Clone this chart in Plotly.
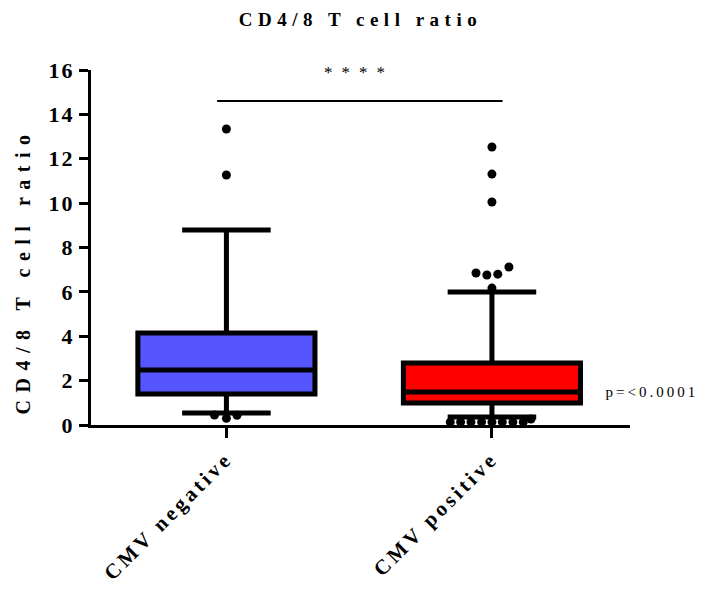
import plotly.graph_objects as go

# ---- data ----
groups = ["CMV negative", "CMV positive"]
group_pos = [0, 1]
q1 = [1.40, 0.99]
median = [2.48, 1.49]
q3 = [4.15, 2.79]
lower_whisker = [0.54, 0.36]
upper_whisker = [8.79, 6.00]
box_colors = ["#5555FF", "#FF0000"]

# outliers (value, horizontal jitter offset)
neg_out_vals = [13.34, 11.27, 0.45, 0.30, 0.44]
neg_out_jit = [0.0, 0.0, -0.045, 0.0, 0.04]
pos_out_vals = [12.53, 11.31, 10.05, 7.12, 6.85, 6.80, 6.76, 6.17,
                0.13, 0.13, 0.13, 0.13, 0.13, 0.13, 0.13, 0.13, 0.27]
pos_out_jit = [0.0, 0.0, 0.0, 0.064, -0.06, 0.022, -0.019, 0.0,
               -0.157, -0.118, -0.079, -0.039, 0.0, 0.039, 0.079, 0.118, 0.147]

sig_y = 14.6
sig_label = "****"
p_label = "p=<0.0001"
title = "CD4/8 T cell ratio"
y_title = "CD4/8 T cell ratio"
y_ticks = list(range(0, 17, 2))

FONT = "Liberation Serif"

fig = go.Figure()
for i in range(2):
    fig.add_trace(go.Box(
        x=[group_pos[i]], q1=[q1[i]], median=[median[i]], q3=[q3[i]],
        lowerfence=[lower_whisker[i]], upperfence=[upper_whisker[i]],
        width=0.667, whiskerwidth=0.5, fillcolor=box_colors[i],
        line=dict(color="black", width=5), boxpoints=False, name=groups[i],
    ))

fig.add_trace(go.Scatter(
    x=[group_pos[0] + j for j in neg_out_jit], y=neg_out_vals, mode="markers",
    marker=dict(color="black", size=9), cliponaxis=False))
fig.add_trace(go.Scatter(
    x=[group_pos[1] + j for j in pos_out_jit], y=pos_out_vals, mode="markers",
    marker=dict(color="black", size=9), cliponaxis=False))

# significance bar
fig.add_trace(go.Scatter(x=[group_pos[0] - 0.035, group_pos[1] + 0.04], y=[sig_y, sig_y],
                         mode="lines", line=dict(color="black", width=2), cliponaxis=False))

fig.update_layout(
    width=701, height=589,
    margin=dict(l=91, r=71, t=70, b=164, autoexpand=False),
    paper_bgcolor="white", plot_bgcolor="white",
    showlegend=False,
    title=dict(text=title, x=0.5, xref="paper", xanchor="center",
               y=1 - 19 / 589, yref="container", yanchor="middle",
               font=dict(family=FONT, size=19, color="black", weight="bold")),
    xaxis=dict(range=[-0.51, 1.52], tickvals=group_pos, ticktext=groups,
               tickangle=-45, showgrid=False, zeroline=False, automargin=False,
               showline=True, linecolor="black", linewidth=3,
               ticks="outside", ticklen=10, tickwidth=3, tickcolor="black",
               tickfont=dict(family=FONT, size=21, color="black", weight="bold")),
    yaxis=dict(range=[0, 16], tickvals=y_ticks, showgrid=False, zeroline=False,
               automargin=False,
               showline=True, linecolor="black", linewidth=3,
               ticks="outside", ticklen=9, tickwidth=3, tickcolor="black",
               tickfont=dict(family=FONT, size=22, color="black", weight="bold")),
    annotations=[
        dict(text=y_title, textangle=-90, xref="paper", yref="paper",
             x=(23 - 91) / 539, y=(425 - 271) / 355, xanchor="center", yanchor="middle",
             showarrow=False, font=dict(family=FONT, size=20, color="black", weight="bold")),
        dict(text=sig_label, xref="x", yref="y", x=(group_pos[0] + group_pos[1]) / 2,
             y=15.9, xanchor="center", yanchor="middle", showarrow=False,
             font=dict(family=FONT, size=17, color="black")),
        dict(text=p_label, xref="x", yref="y", x=1.47, y=1.5, xanchor="left",
             yanchor="middle", showarrow=False,
             font=dict(family=FONT, size=15, color="black")),
    ],
)

post = """
document.body.style.margin = '0';
var gd = document.getElementById('{plot_id}');
function sp(sel, v){ gd.querySelectorAll(sel).forEach(function(t){ t.style.letterSpacing = v; }); }
sp('.gtitle', '5.5px');
sp('.xtick text', '3.5px');
sp('.ytick text', '2px');
sp('.annotation[data-index="0"] text', '7.5px');
sp('.annotation[data-index="1"] text', '9px');
sp('.annotation[data-index="2"] text', '3px');
"""
fig.write_html("out.html", post_script=post, config={"displayModeBar": False})
